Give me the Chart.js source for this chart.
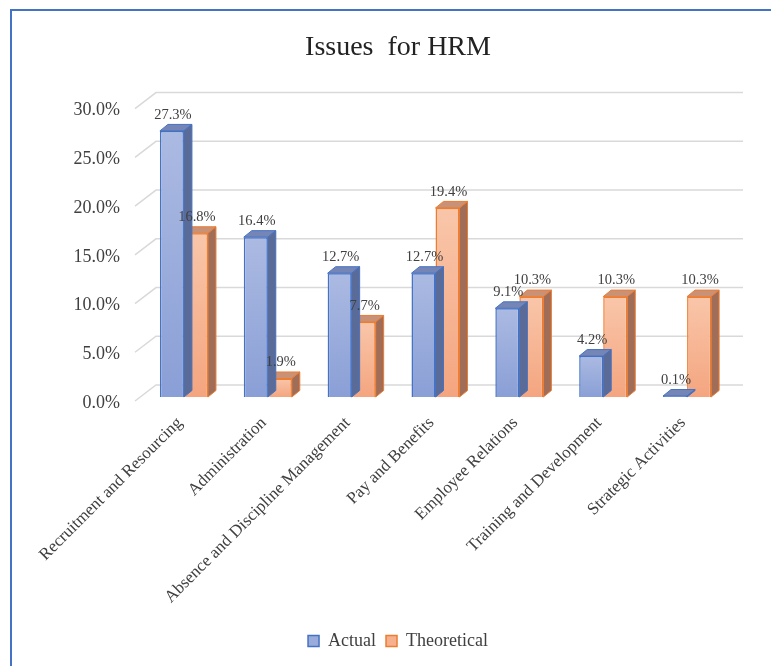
<!DOCTYPE html>
<html>
<head>
<meta charset="utf-8">
<title>Issues for HRM</title>
<script src="https://cdn.jsdelivr.net/npm/chart.js@4.4.1/dist/chart.umd.min.js"></script>
<style>
	html, body { margin: 0; padding: 0; background: #fff; overflow: hidden; }
	#frame {
		position: absolute; left: 10px; top: 9px; width: 800px; height: 700px;
		border-left: 2px solid #4472c4; border-top: 2px solid #4472c4;
	}
	#wrap { position: absolute; left: 0; top: 0; width: 771px; height: 666px; }
</style>
</head>
<body>
<div id="frame"></div>
<div id="wrap"><canvas id="hrm-chart"></canvas></div>
<script>
const categories = [
	'Recruitment and Resourcing',
	'Administration',
	'Absence and Discipline Management',
	'Pay and Benefits',
	'Employee Relations',
	'Training and Development',
	'Strategic Activities',
];
const actual = [27.3, 16.4, 12.7, 12.7, 9.1, 4.2, 0.1];
const theoretical = [16.8, 1.9, 7.7, 19.4, 10.3, 10.3, 10.3];
const yTicks = [0, 5, 10, 15, 20, 25, 30];

const FONT = "'Liberation Serif', 'Times New Roman', serif";
const TEXT = '#404040';

// fake 3d offsets (px)
const DEPTH = { x: 8, y: -6.5 };   // bar depth
const WALL = { x: 14, y: -12 };    // back wall behind the bars
const FLOOR = { x: -7, y: 4 };     // front edge of the floor

const faces = [
	{ top: '#7586b6', side: '#5b6b97', edge: '#4472c4' },
	{ top: '#c99277', side: '#a06e58', edge: '#ed7d31' },
];

// vertical gradient on the front of each bar
function frontFill(light, dark) {
	return (c) => {
		const chart = c.chart;
		if (!chart.chartArea || c.type !== 'data') return dark;
		const y = chart.scales.y;
		const top = y.getPixelForValue(c.raw);
		const base = y.getPixelForValue(0);
		if (!isFinite(top) || base - top < 1) return dark;
		const g = chart.ctx.createLinearGradient(0, top, 0, base);
		g.addColorStop(0, light);
		g.addColorStop(1, dark);
		return g;
	};
}

function poly(ctx, pts, fill) {
	ctx.beginPath();
	ctx.moveTo(pts[0][0], pts[0][1]);
	pts.slice(1).forEach(p => ctx.lineTo(p[0], p[1]));
	ctx.closePath();
	ctx.fillStyle = fill;
	ctx.fill();
	ctx.stroke();
}

// grid lines on the back wall + slanted lines to the floor edge
const wallPlugin = {
	id: 'wall',
	beforeDatasetsDraw(chart) {
		const { ctx, chartArea: a, scales: { y } } = chart;
		ctx.save();
		ctx.strokeStyle = '#d9d9d9';
		ctx.lineWidth = 1.5;
		y.ticks.forEach(t => {
			const py = y.getPixelForValue(t.value);
			ctx.beginPath();
			ctx.moveTo(a.left + FLOOR.x, py + FLOOR.y);
			ctx.lineTo(a.left + WALL.x, py + WALL.y);
			ctx.lineTo(a.right + WALL.x, py + WALL.y);
			ctx.stroke();
		});
		ctx.restore();
	},
};

// top and side faces, drawn per dataset so the next series covers the sides
const boxPlugin = {
	id: 'box3d',
	afterDatasetDraw(chart, args) {
		const ctx = chart.ctx;
		const c = faces[args.index];
		ctx.save();
		ctx.lineWidth = 1;
		ctx.lineJoin = 'round';
		ctx.strokeStyle = c.edge;
		args.meta.data.forEach(bar => {
			const { x, y, base, width } = bar.getProps(['x', 'y', 'base', 'width'], true);
			const l = x - width / 2, r = x + width / 2;
			poly(ctx, [[l, y], [l + DEPTH.x, y + DEPTH.y], [r + DEPTH.x, y + DEPTH.y], [r, y]], c.top);
			poly(ctx, [[r, y], [r + DEPTH.x, y + DEPTH.y], [r + DEPTH.x, base + DEPTH.y], [r, base]], c.side);
		});
		ctx.restore();
	},
};

const valueLabels = {
	id: 'valueLabels',
	afterDatasetsDraw(chart) {
		const ctx = chart.ctx;
		ctx.save();
		ctx.font = `14.5px ${FONT}`;
		ctx.fillStyle = TEXT;
		ctx.textAlign = 'center';
		ctx.textBaseline = 'middle';
		chart.data.datasets.forEach((ds, i) => {
			chart.getDatasetMeta(i).data.forEach((bar, j) => {
				ctx.fillText(ds.data[j].toFixed(1) + '%', bar.x + 1, bar.y - 16);
			});
		});
		ctx.restore();
	},
};

const data = {
	labels: categories,
	datasets: [{
		label: 'Actual',
		data: actual,
		backgroundColor: frontFill('#abbae2', '#8a9fd6'),
		borderColor: '#4472c4',
		borderWidth: 1.5,
	}, {
		label: 'Theoretical',
		data: theoretical,
		backgroundColor: frontFill('#f9c6aa', '#f4a57f'),
		borderColor: '#ed7d31',
		borderWidth: 1.5,
	}],
};

const legendColors = [['#9aacdc', '#4472c4'], ['#f6b08e', '#ed7d31']];

new Chart(document.querySelector('#hrm-chart'), {
	type: 'bar',
	data: data,
	plugins: [wallPlugin, boxPlugin, valueLabels],
	options: {
		responsive: true,
		maintainAspectRatio: false,
		animation: false,
		categoryPercentage: 0.573,
		barPercentage: 1,
		layout: { padding: { left: 67, right: 42, top: 0, bottom: 6 } },
		scales: {
			x: {
				grid: { display: false },
				border: { display: false },
				ticks: {
					minRotation: 45, maxRotation: 45,
					padding: 8,
					labelOffset: -4,
					color: TEXT,
					font: { family: FONT, size: 17 },
				},
				afterFit: (s) => { s.height = 225; },
			},
			y: {
				min: 0, max: 30,
				grid: { display: false },
				border: { display: false },
				afterBuildTicks: (s) => { s.ticks = yTicks.map(v => ({ value: v })); },
				ticks: {
					padding: 14,
					labelOffset: 6,
					color: TEXT,
					font: { family: FONT, size: 18 },
					callback: (v) => v.toFixed(1) + '%',
				},
				afterFit: (s) => { s.width = 75; },
			},
		},
		plugins: {
			title: {
				display: true,
				text: 'Issues  for HRM',
				color: '#222',
				font: { family: FONT, size: 28, weight: 'normal' },
				padding: { top: 31, bottom: 40 },
			},
			legend: {
				position: 'bottom',
				labels: {
					color: TEXT,
					font: { family: FONT, size: 18 },
					boxWidth: 11,
					boxHeight: 11,
					padding: 10,
					generateLabels: (chart) => chart.data.datasets.map((ds, i) => ({
						text: ds.label,
						fillStyle: legendColors[i][0],
						strokeStyle: legendColors[i][1],
						lineWidth: 1.5,
						fontColor: TEXT,
						datasetIndex: i,
						hidden: false,
					})),
				},
			},
			tooltip: { enabled: false },
		},
	},
});
</script>
</body>
</html>
